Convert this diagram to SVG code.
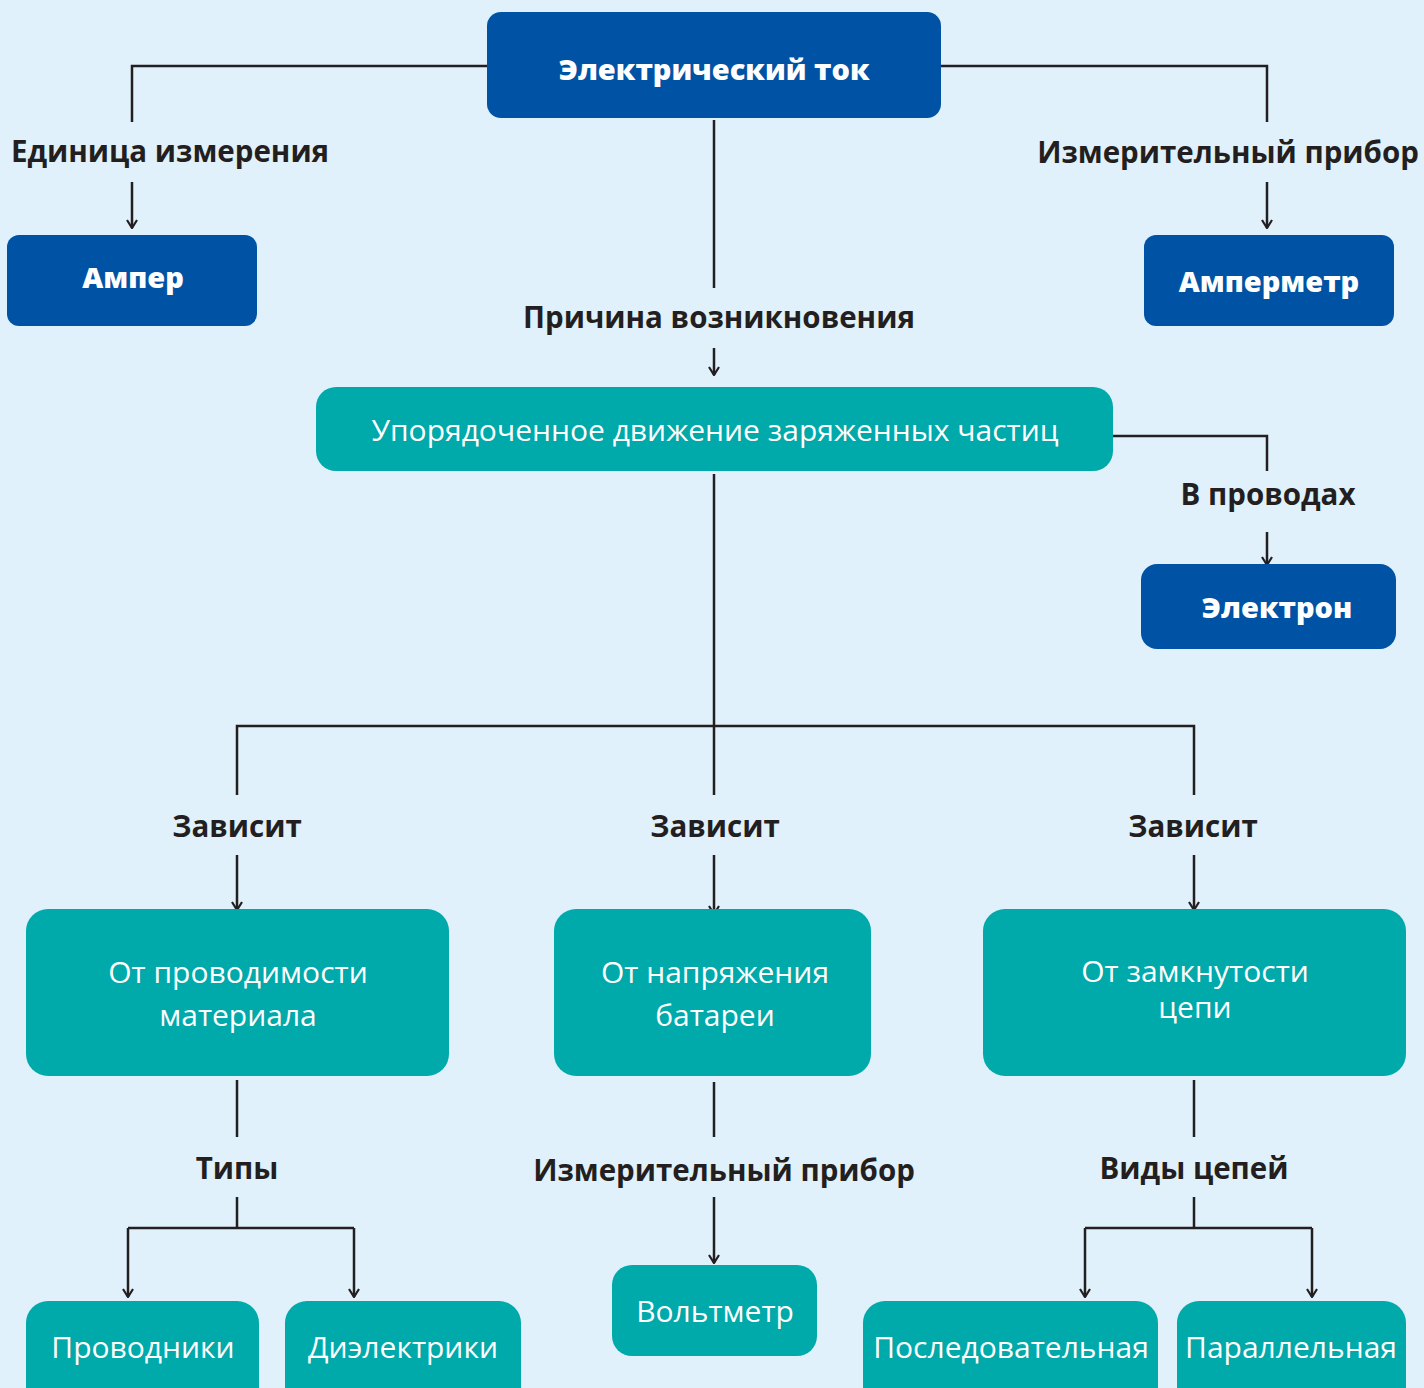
<svg xmlns="http://www.w3.org/2000/svg" width="1424" height="1388" viewBox="0 0 1424 1388">
<defs>
<marker id="arr" viewBox="0 0 10 12" refX="9" refY="6" markerWidth="10" markerHeight="12" markerUnits="userSpaceOnUse" orient="auto">
<path d="M1,1 L9,6 L1,11" fill="none" stroke="#231f20" stroke-width="2.2"/>
</marker>
<style>
.bg{fill:#e0f1fb}
.blue{fill:#0053a4}
.teal{fill:#00a9aa}
.bt{font-family:"Open Sans","Noto Sans","DejaVu Sans",sans-serif;font-weight:800;fill:#fff;text-anchor:middle;font-size:29px}
.tt{font-family:"Open Sans","Noto Sans","DejaVu Sans",sans-serif;font-weight:400;fill:#fff;text-anchor:middle;font-size:30px}
.lb{font-family:"Open Sans","Noto Sans","DejaVu Sans",sans-serif;font-weight:700;fill:#231f20;text-anchor:middle;font-size:29.5px}
.c{fill:none;stroke:#231f20;stroke-width:2.5}
.a{fill:none;stroke:#231f20;stroke-width:2.5;marker-end:url(#arr)}
</style>
</defs>
<rect class="bg" x="0" y="0" width="1424" height="1388"/>
<g id="connectors">
<path class="c" d="M487,66 H132 V122"/>
<path class="a" d="M132,182 V228"/>
<path class="c" d="M941,66 H1267 V122"/>
<path class="a" d="M1267,182 V228"/>
<path class="c" d="M714,120 V288"/>
<path class="a" d="M714,348 V375"/>
<path class="c" d="M1113,436 H1267 V471"/>
<path class="a" d="M1267,532 V565"/>
<path class="c" d="M714,474 V795"/>
<path class="c" d="M237,795 V726 H1194 V795"/>
<path class="a" d="M237,855 V910"/>
<path class="a" d="M714,855 V914"/>
<path class="a" d="M1194,855 V910"/>
<path class="c" d="M237,1080 V1137"/>
<path class="c" d="M714,1082 V1137"/>
<path class="c" d="M1194,1080 V1137"/>
<path class="c" d="M237,1197 V1228"/>
<path class="c" d="M128,1228 H354"/>
<path class="a" d="M128,1228 V1297"/>
<path class="a" d="M354,1228 V1297"/>
<path class="c" d="M1194,1197 V1228"/>
<path class="c" d="M1085,1228 H1312"/>
<path class="a" d="M1085,1228 V1297"/>
<path class="a" d="M1312,1228 V1297"/>
<path class="a" d="M714,1197 V1263"/>
</g>
<g id="labels">
<text class="lb" x="170" y="162">Единица измерения</text>
<text class="lb" x="1228" y="163">Измерительный прибор</text>
<text class="lb" x="719" y="328">Причина возникновения</text>
<text class="lb" x="1268" y="505">В проводах</text>
<text class="lb" x="237" y="837">Зависит</text>
<text class="lb" x="715" y="837">Зависит</text>
<text class="lb" x="1193" y="837">Зависит</text>
<text class="lb" x="237" y="1179">Типы</text>
<text class="lb" x="724" y="1181">Измерительный прибор</text>
<text class="lb" x="1194" y="1179">Виды цепей</text>
</g>
<g id="n-tok"><rect class="blue" x="487" y="12" width="454" height="106" rx="14"/><text class="bt" x="714" y="80">Электрический ток</text></g>
<g id="n-amper"><rect class="blue" x="7" y="235" width="250" height="91" rx="12"/><text class="bt" x="133" y="288">Ампер</text></g>
<g id="n-ampermetr"><rect class="blue" x="1144" y="235" width="250" height="91" rx="12"/><text class="bt" x="1269" y="292">Амперметр</text></g>
<g id="n-dvizh"><rect class="teal" x="316" y="387" width="797" height="84" rx="20"/><text class="tt" x="715" y="441">Упорядоченное движение заряженных частиц</text></g>
<g id="n-elektron"><rect class="blue" x="1141" y="564" width="255" height="85" rx="16"/><text class="bt" x="1277" y="618">Электрон</text></g>
<g id="n-prov"><rect class="teal" x="26" y="909" width="423" height="167" rx="22"/><text class="tt" x="238" y="983">От проводимости</text><text class="tt" x="238" y="1026">материала</text></g>
<g id="n-napr"><rect class="teal" x="554" y="909" width="317" height="167" rx="22"/><text class="tt" x="715" y="983">От напряжения</text><text class="tt" x="715" y="1026">батареи</text></g>
<g id="n-zamk"><rect class="teal" x="983" y="909" width="423" height="167" rx="22"/><text class="tt" x="1195" y="982">От замкнутости</text><text class="tt" x="1195" y="1018">цепи</text></g>
<g id="n-provodniki"><rect class="teal" x="26" y="1301" width="233" height="110" rx="22"/><text class="tt" x="143" y="1358">Проводники</text></g>
<g id="n-dielektriki"><rect class="teal" x="285" y="1301" width="236" height="110" rx="22"/><text class="tt" x="403" y="1358">Диэлектрики</text></g>
<g id="n-voltmetr"><rect class="teal" x="612" y="1265" width="205" height="91" rx="20"/><text class="tt" x="715" y="1322">Вольтметр</text></g>
<g id="n-posl"><rect class="teal" x="863" y="1301" width="295" height="110" rx="22"/><text class="tt" x="1011" y="1358">Последовательная</text></g>
<g id="n-par"><rect class="teal" x="1177" y="1301" width="229" height="110" rx="22"/><text class="tt" x="1291" y="1358">Параллельная</text></g>
</svg>
